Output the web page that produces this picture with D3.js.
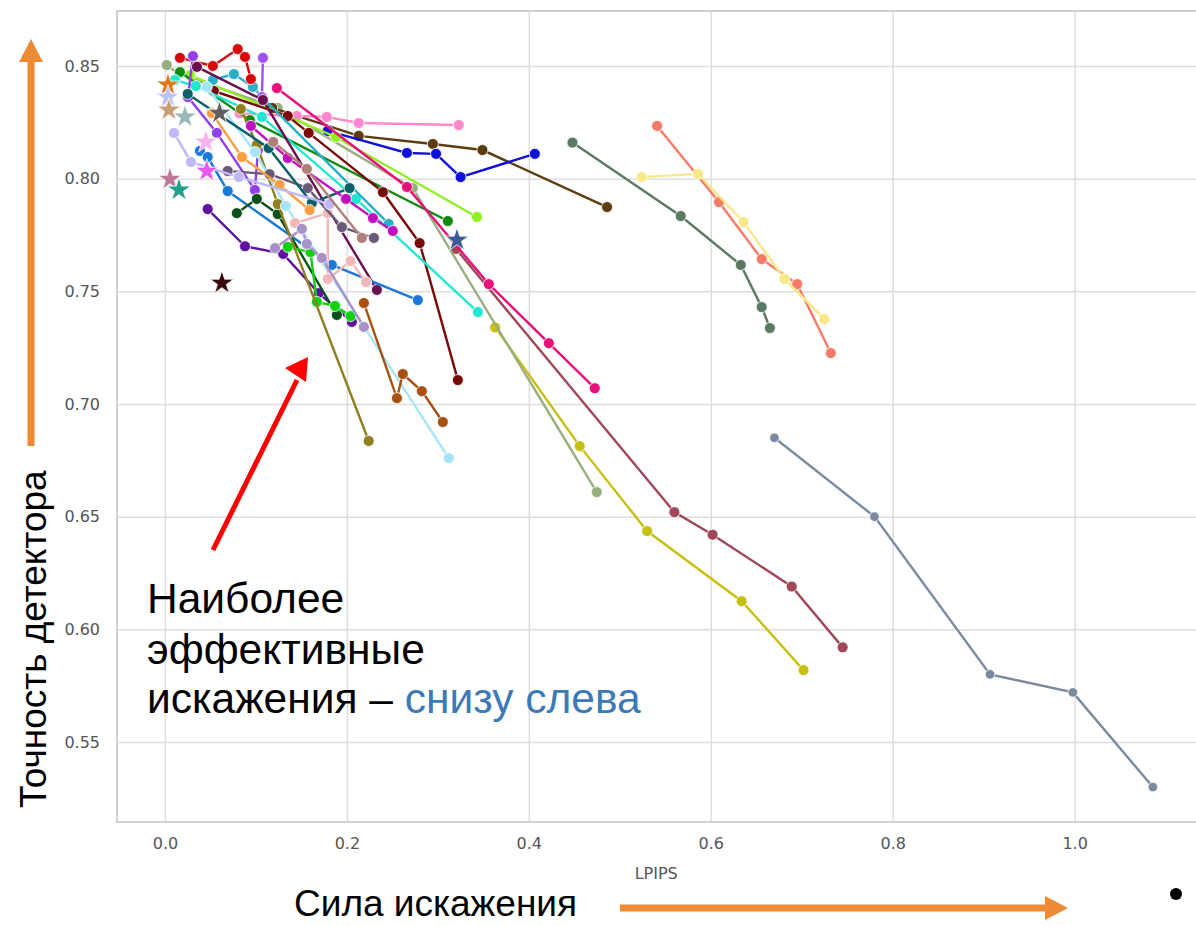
<!DOCTYPE html>
<html>
<head>
<meta charset="utf-8">
<script src="https://cdn.jsdelivr.net/npm/d3@7"></script>
<style>
  body { margin: 0; background: #fff; }
  .tick text { font-family: 'DejaVu Sans', sans-serif; fill: #555; }
  .big { font-family: 'Liberation Sans', Arial, sans-serif; }
</style>
</head>
<body>
<svg width="1196" height="926"></svg>
<script>
// series: x = LPIPS, y = detector accuracy
const seriesColors = [
  '#7a8aa0', '#a04858', '#c8c010', '#98b080', '#5a7a62', '#f87a68', '#f8e888',
  '#5c3c10', '#1010d8', '#ff88cc', '#90f020', '#108a10', '#e8107a', '#780a0a',
  '#20e8d0', '#28b0c8', '#d80808', '#a050f8', '#9040e8', '#6010a0', '#6a1050',
  '#1a78d8', '#0a5018', '#10d010', '#908020', '#a8e4f8', '#a85010', '#f0b8b8',
  '#a890c8', '#6a5a78', '#0a6068', '#f8a040', '#c0b8f8', '#c010c0', '#b08078'
];
const lpips = [
  [0.670, 0.780, 0.907, 0.998, 1.086],
  [0.320, 0.560, 0.602, 0.689, 0.745],
  [0.363, 0.456, 0.530, 0.634, 0.702],
  [0.002, 0.0154, 0.124, 0.2725, 0.4747],
  [0.448, 0.567, 0.633, 0.656, 0.665],
  [0.541, 0.609, 0.656, 0.695, 0.732],
  [0.524, 0.586, 0.636, 0.681, 0.725],
  [0.118, 0.213, 0.2945, 0.349, 0.486],
  [0.179, 0.266, 0.298, 0.325, 0.4066],
  [0.082, 0.145, 0.178, 0.213, 0.323],
  [0.0275, 0.188, 0.343],
  [0.0165, 0.0934, 0.311],
  [0.123, 0.266, 0.356, 0.422, 0.4725],
  [0.0538, 0.135, 0.158, 0.2396, 0.280, 0.322],
  [0.011, 0.034, 0.1066, 0.21, 0.344],
  [0.0527, 0.0758, 0.0967, 0.1066, 0.246],
  [0.0165, 0.0527, 0.080, 0.088, 0.0945],
  [0.1077, 0.1066],
  [0.0308, 0.0253, 0.0571, 0.0989, 0.1022],
  [0.047, 0.088, 0.130, 0.169, 0.2055],
  [0.0352, 0.1077, 0.233],
  [0.0385, 0.047, 0.069, 0.1835, 0.278],
  [0.079, 0.101, 0.124, 0.189],
  [0.135, 0.160, 0.167, 0.187, 0.204],
  [0.0835, 0.101, 0.124, 0.224],
  [0.046, 0.099, 0.133, 0.312],
  [0.2187, 0.255, 0.2615, 0.2824, 0.3055],
  [0.143, 0.179, 0.179, 0.204, 0.221],
  [0.121, 0.1505, 0.156, 0.1725, 0.2187],
  [0.069, 0.115, 0.157, 0.1945, 0.2297],
  [0.025, 0.114, 0.1615, 0.203],
  [0.0516, 0.0846, 0.126, 0.159],
  [0.0099, 0.0286, 0.0813, 0.181],
  [0.0945, 0.135, 0.199, 0.2286, 0.2505],
  [0.119, 0.156, 0.2165]
];
const accuracy = [
  [0.685, 0.650, 0.580, 0.572, 0.530],
  [0.7688, 0.652, 0.642, 0.619, 0.592],
  [0.734, 0.6813, 0.6436, 0.6125, 0.5819],
  [0.8504, 0.8464, 0.8314, 0.7958, 0.6609],
  [0.816, 0.7834, 0.7617, 0.743, 0.7337],
  [0.8234, 0.7896, 0.7643, 0.7532, 0.7226],
  [0.8007, 0.8021, 0.7808, 0.7555, 0.7377],
  [0.8314, 0.819, 0.8154, 0.8127, 0.7874],
  [0.8212, 0.8114, 0.811, 0.8007, 0.811],
  [0.829, 0.8278, 0.8274, 0.8247, 0.8238],
  [0.846, 0.8185, 0.783],
  [0.8473, 0.826, 0.7812],
  [0.8402, 0.7963, 0.7532, 0.727, 0.707],
  [0.8389, 0.8278, 0.8203, 0.794, 0.7714, 0.7106],
  [0.8438, 0.8411, 0.8274, 0.791, 0.7408],
  [0.8438, 0.8464, 0.8407, 0.8362, 0.7799],
  [0.8536, 0.85, 0.8575, 0.854, 0.8442],
  [0.8536, 0.8362],
  [0.8544, 0.8362, 0.8203, 0.795, 0.8127],
  [0.7865, 0.770, 0.7666, 0.7492, 0.7364],
  [0.8496, 0.8349, 0.7506],
  [0.8123, 0.8096, 0.7945, 0.7617, 0.7461],
  [0.7847, 0.791, 0.7843, 0.7395],
  [0.7697, 0.7674, 0.7453, 0.7435, 0.739],
  [0.8309, 0.815, 0.7887, 0.6836],
  [0.8407, 0.8118, 0.7879, 0.676],
  [0.7448, 0.7026, 0.7133, 0.7057, 0.692],
  [0.7803, 0.7847, 0.7555, 0.7634, 0.7541],
  [0.7692, 0.7777, 0.771, 0.7648, 0.7342],
  [0.8034, 0.802, 0.7958, 0.7785, 0.7737],
  [0.8376, 0.8136, 0.7892, 0.7958],
  [0.8291, 0.8096, 0.7972, 0.7861],
  [0.8203, 0.8074, 0.8007, 0.7887],
  [0.8234, 0.8092, 0.791, 0.7825, 0.7768],
  [0.8163, 0.8043, 0.7737]
];
// baseline (star) points
const starLpips = [0.0033, 0.0033, 0.0044, 0.022, 0.045, 0.046, 0.0055, 0.0154, 0.0626, 0.321, 0.060];
const starAcc = [0.8416, 0.8362, 0.8305, 0.8274, 0.8163, 0.8034, 0.7998, 0.795, 0.7537, 0.7728, 0.8291];
const starColors = ['#e07818', '#b8c4f8', '#c8a078', '#98b8b8', '#f8b0f0', '#e858f0', '#c07898', '#20a088', '#3a0808', '#3a5a98', '#606060'];

const xTicks = [0.0, 0.2, 0.4, 0.6, 0.8, 1.0];
const yTicks = [0.55, 0.60, 0.65, 0.70, 0.75, 0.80, 0.85];

function whenLoaded(){
    const svg = d3.select('svg');
    const margin = {top: 11, left: 117, right: -6, bottom: 104};
    const width = +svg.attr('width');
    const height = +svg.attr('height');
    const innerWidth = width - margin.left - margin.right;
    const innerHeight = height - margin.top - margin.bottom;

    const xScale = d3.scaleLinear().domain([-0.0527, 1.14]).range([0, innerWidth]);
    const yScale = d3.scaleLinear().domain([0.5145, 0.8744]).range([innerHeight, 0]);

    const g = svg.append('g')
        .attr('transform', `translate(${margin.left},${margin.top})`);

    const xAxis = d3.axisBottom(xScale)
        .tickValues(xTicks)
        .tickFormat(d3.format('.1f'))
        .tickSize(-innerHeight)
        .tickPadding(16);
    const yAxis = d3.axisLeft(yScale)
        .tickValues(yTicks)
        .tickFormat(d3.format('.2f'))
        .tickSize(-innerWidth)
        .tickPadding(17);

    const xAxisG = g.append('g')
        .attr('transform', `translate(0,${innerHeight})`)
        .call(xAxis);
    const yAxisG = g.append('g').call(yAxis);
    [xAxisG, yAxisG].forEach(a => {
        a.select('.domain').remove();
        a.selectAll('.tick line').attr('stroke', '#dedede').attr('stroke-width', 1.5);
    });
    xAxisG.selectAll('.tick text').style('font-size', '16px');
    yAxisG.selectAll('.tick text').style('font-size', '16px');

    g.append('rect')
        .attr('width', innerWidth).attr('height', innerHeight)
        .attr('fill', 'none').attr('stroke', '#d2d2d2').attr('stroke-width', 2);

    xAxisG.append('text')
        .attr('x', xScale(0.54)).attr('y', 57)
        .attr('fill', '#555')
        .style('font-family', "'DejaVu Sans', sans-serif")
        .style('font-size', '16px')
        .attr('text-anchor', 'middle')
        .text('LPIPS');

    const line = d3.line().x(d => xScale(d[0])).y(d => yScale(d[1]));
    const series = lpips.map((xs, i) => xs.map((x, j) => [x, accuracy[i][j]]));

    series.forEach((pts, i) => {
        const sg = g.append('g');
        sg.append('path')
            .attr('d', line(pts))
            .attr('fill', 'none')
            .attr('stroke', seriesColors[i])
            .attr('stroke-width', 2.4);
        sg.selectAll('circle').data(pts).enter().append('circle')
            .attr('cx', d => xScale(d[0]))
            .attr('cy', d => yScale(d[1]))
            .attr('r', i === 0 ? 4.8 : 5.5)
            .attr('fill', seriesColors[i])
            .attr('stroke', '#fff')
            .attr('stroke-width', 0.8);
    });

    const star = d3.symbol().type(d3.symbolStar).size(170);
    g.selectAll('.star').data(starLpips).enter().append('path')
        .attr('class', 'star')
        .attr('d', star)
        .attr('transform', (d, i) => `translate(${xScale(d)},${yScale(starAcc[i])})`)
        .attr('fill', (d, i) => starColors[i])
        .attr('stroke', '#fff')
        .attr('stroke-width', 0.8);

    // annotations on top of the chart
    const orange = '#ec8a35';
    svg.append('rect').attr('x', 27.5).attr('y', 60).attr('width', 7).attr('height', 386).attr('fill', orange);
    svg.append('path').attr('d', 'M19,62 L43,62 L31,39 Z').attr('fill', orange);
    svg.append('rect').attr('x', 620).attr('y', 904.5).attr('width', 427).attr('height', 7).attr('fill', orange);
    svg.append('path').attr('d', 'M1045,896 L1045,920 L1068,908 Z').attr('fill', orange);

    svg.append('line')
        .attr('x1', 213).attr('y1', 550).attr('x2', 297).attr('y2', 380)
        .attr('stroke', '#ff0000').attr('stroke-width', 5);
    svg.append('path').attr('d', 'M285,368 L308,357 L306,382 Z').attr('fill', '#ff0000');

    svg.append('circle').attr('cx', 1176).attr('cy', 894).attr('r', 6).attr('fill', '#000');

    svg.append('text').attr('class', 'big')
        .attr('transform', 'translate(46,808) rotate(-90)')
        .style('font-size', '37px')
        .text('Точность детектора');

    svg.append('text').attr('class', 'big')
        .attr('x', 294).attr('y', 916)
        .style('font-size', '37px')
        .text('Сила искажения');

    const note = svg.append('text').attr('class', 'big')
        .attr('x', 147).style('font-size', '42.5px');
    note.append('tspan').attr('x', 147).attr('y', 613).text('Наиболее');
    note.append('tspan').attr('x', 147).attr('y', 664).text('эффективные');
    note.append('tspan').attr('x', 147).attr('y', 713).text('искажения – ');
    note.append('tspan').attr('fill', '#3d7ab5').text('снизу слева');
}

window.onload = whenLoaded;
</script>
</body>
</html>
